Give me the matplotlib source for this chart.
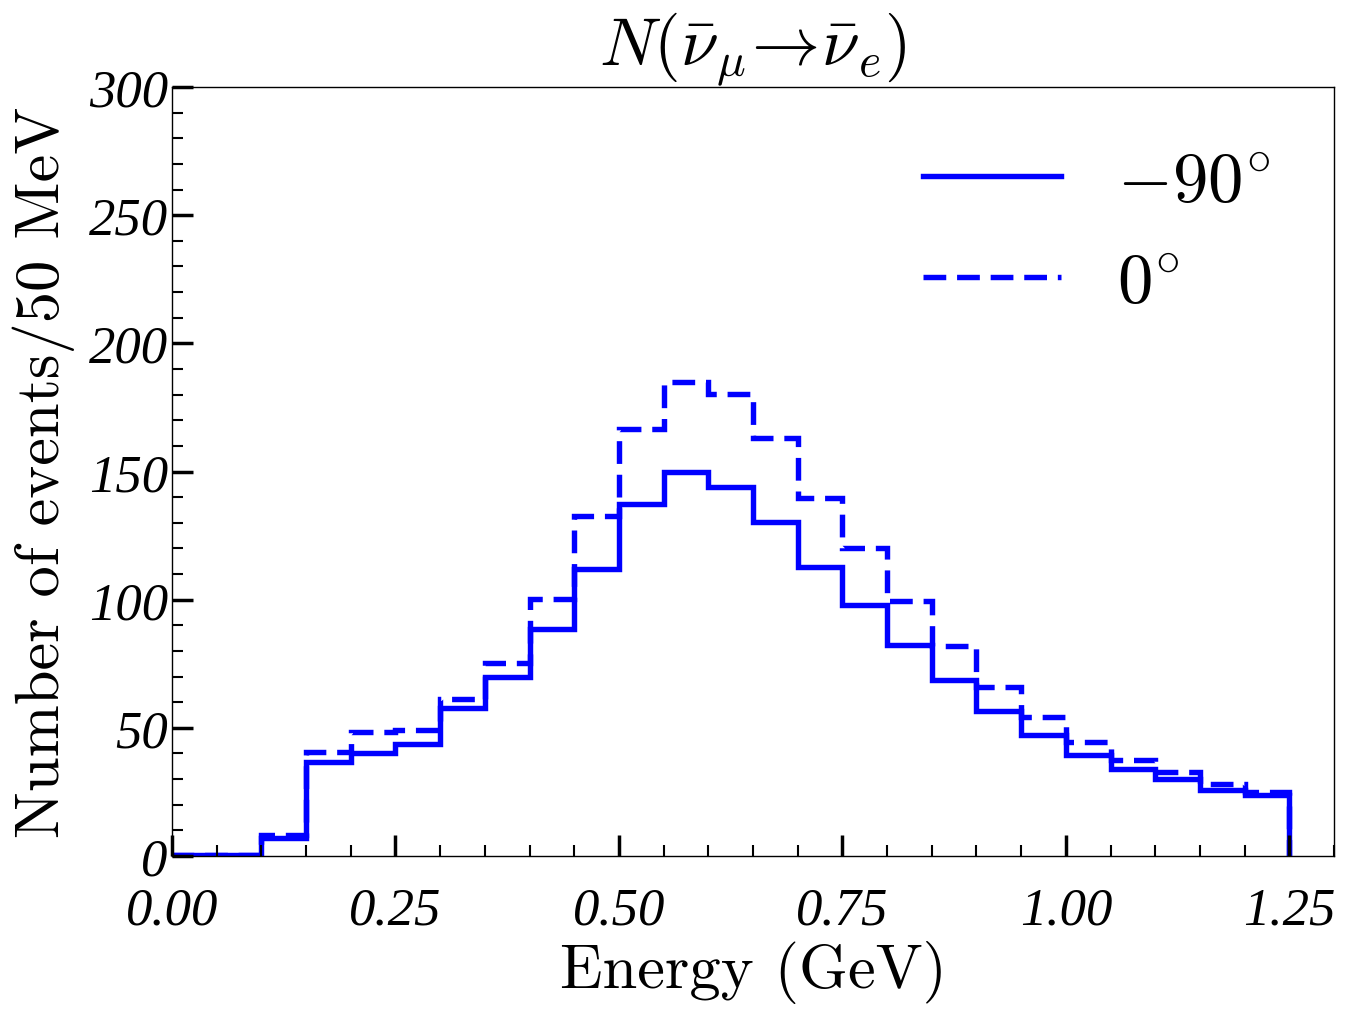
import numpy as np
import matplotlib
matplotlib.use('Agg')
import matplotlib.pyplot as plt
from matplotlib.ticker import MultipleLocator, FormatStrFormatter

# bin edges (GeV), 50 MeV bins
edges = np.round(np.arange(0, 1.2501, 0.05), 2)

# events per bin
n_m90 = [0.3, 0.3, 6.9, 36.7, 40.2, 43.8, 57.7, 69.7, 88.6, 112.0, 137.3, 150.0, 144.0,
         130.4, 112.6, 98.0, 82.3, 68.8, 56.7, 47.3, 39.4, 34.0, 30.0, 25.9, 23.8]
n_0 = [0.3, 0.3, 8.0, 40.7, 48.3, 49.3, 61.3, 75.3, 100.3, 132.8, 166.6, 185.0, 180.3,
       163.0, 139.5, 120.2, 99.6, 82.0, 65.8, 54.1, 44.4, 37.6, 32.9, 28.1, 25.1]

labels = [r'$-90^{\circ}$', r'$0^{\circ}$']

plt.rcParams['mathtext.fontset'] = 'cm'
plt.rcParams['axes.unicode_minus'] = False

fig = plt.figure(figsize=(13.48, 10.2), dpi=100)
ax = fig.add_axes([0.1276, 0.1598, 0.862, 0.7539])

ax.stairs(n_m90, edges, color='#0000ff', lw=3.9, ls='-', label=labels[0], baseline=0)
ax.stairs(n_0, edges, color='#0000ff', lw=3.9, ls=(0, (4.2, 2.0)), label=labels[1], baseline=0)

ax.set_xlim(0, 1.3)
ax.set_ylim(0, 300)

ax.xaxis.set_major_locator(MultipleLocator(0.25))
ax.xaxis.set_minor_locator(MultipleLocator(0.05))
ax.yaxis.set_major_locator(MultipleLocator(50))
ax.yaxis.set_minor_locator(MultipleLocator(10))
ax.xaxis.set_major_formatter(FormatStrFormatter('%.2f'))
ax.yaxis.set_major_formatter(FormatStrFormatter('%d'))

ax.tick_params(which='major', direction='in', length=15, width=2.5, top=False, right=False)
ax.tick_params(which='minor', direction='in', length=8, width=1.5, top=False, right=False)
ax.tick_params(axis='x', which='major', pad=22)
ax.tick_params(axis='y', which='major', pad=3)
for sp in ax.spines.values():
    sp.set_linewidth(1.0)

for lab in ax.get_xticklabels() + ax.get_yticklabels():
    lab.set_fontfamily('Liberation Serif')
    lab.set_fontstyle('italic')
    lab.set_fontsize(38)

ax.set_xlabel('Energy (GeV)', family='cmr10', fontsize=45, labelpad=4)
ax.set_ylabel('Number of events/50 MeV', family='cmr10', fontsize=45, labelpad=10)
ax.set_title(r'$N(\bar{\nu}_{\mu}\!\rightarrow\!\bar{\nu}_{e})$', fontsize=49, pad=4)

ax.legend(loc='upper right', frameon=False, fontsize=51, handlelength=1.95,
          handletextpad=0.8, labelspacing=0.45, bbox_to_anchor=(1.0, 1.005))

fig.savefig('out.png', dpi=100)
